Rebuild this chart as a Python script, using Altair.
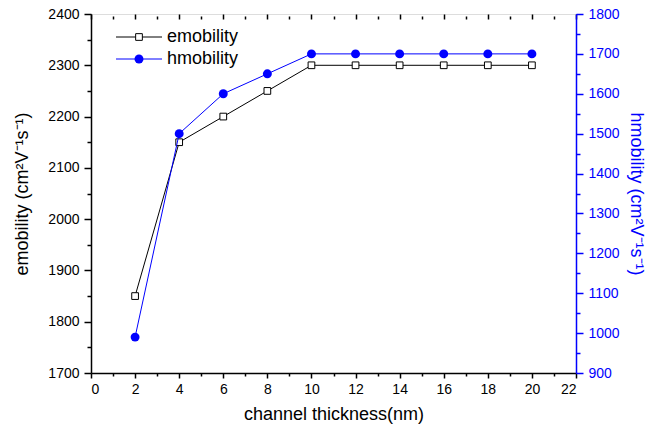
import altair as alt
import pandas as pd

thickness = [2, 4, 6, 8, 10, 12, 14, 16, 18, 20]
emobility = [1850, 2150, 2200, 2250, 2300, 2300, 2300, 2300, 2300, 2300]
hmobility = [990, 1500, 1600, 1650, 1700, 1700, 1700, 1700, 1700, 1700]

x_ticks = list(range(0, 23))
left_ticks = list(range(1700, 2401, 50))
right_ticks = list(range(900, 1801, 50))

df = pd.DataFrame({"x": thickness, "e": emobility, "h": hmobility})
FONT = "Liberation Sans"
BLUE = "#0000ff"

xscale = alt.Scale(domain=[0, 22], nice=False, zero=False)

x_bottom = alt.Axis(
    values=x_ticks, orient="bottom", title="channel thickness(nm)",
    labelExpr="datum.value % 2 === 0 ? datum.label : ''",
    tickSize={"condition": {"test": "datum.value % 2 === 0", "value": 5}, "value": 3},
    grid=False, domainColor="black", tickColor="black", labelColor="black",
    labelFontSize=14, titleFontSize=18, labelPadding=4, titlePadding=9,
    domainWidth=1.5, tickWidth=1.5, labelFont=FONT, titleFont=FONT,
    titleFontWeight="normal",
)

y_left = alt.Axis(
    values=left_ticks, orient="left", title="emobility (cm²V⁻¹s⁻¹)",
    labelExpr="datum.value % 100 === 0 ? datum.label : ''",
    tickSize={"condition": {"test": "datum.value % 100 === 0", "value": 7}, "value": 4},
    grid=False, domainColor="black", tickColor="black", labelColor="black",
    labelFontSize=14, titleFontSize=18, labelPadding=5, titlePadding=16,
    domainWidth=1.5, tickWidth=1.5, labelFont=FONT, titleFont=FONT,
    titleFontWeight="normal", format="d",
)

y_right = alt.Axis(
    values=right_ticks, orient="right", title="hmobility (cm²V⁻¹s⁻¹)",
    labelExpr="datum.value % 100 === 0 ? datum.label : ''",
    tickSize={"condition": {"test": "datum.value % 100 === 0", "value": 7}, "value": 4},
    grid=False, domainColor=BLUE, tickColor=BLUE, labelColor=BLUE, titleColor=BLUE,
    labelFontSize=14, titleFontSize=18, labelPadding=5, titlePadding=7,
    domainWidth=1.5, tickWidth=1.5, labelFont=FONT, titleFont=FONT,
    titleFontWeight="normal", format="d",
)

x_top = alt.Axis(
    values=x_ticks, orient="top", title=None, labels=False, domain=False,
    offset=-5,
    tickSize={"condition": {"test": "datum.value % 2 === 0", "value": 5}, "value": 3},
    grid=False, tickColor="black", tickWidth=1.5,
)

e_layer = alt.Chart(df).mark_line(
    color="black", strokeWidth=1,
    point=alt.OverlayMarkDef(shape="square", filled=False, fill="white",
                             color="black", size=45, strokeWidth=1, opacity=1),
).encode(
    x=alt.X("x:Q", scale=xscale, axis=x_bottom),
    y=alt.Y("e:Q", scale=alt.Scale(domain=[1700, 2400], nice=False, zero=False), axis=y_left),
)

h_layer = alt.Chart(df).mark_line(
    color=BLUE, strokeWidth=1,
    point=alt.OverlayMarkDef(shape="circle", filled=True, color=BLUE, size=80, opacity=1),
).encode(
    x=alt.X("x:Q", scale=xscale, axis=None),
    y=alt.Y("h:Q", scale=alt.Scale(domain=[900, 1800], nice=False, zero=False), axis=y_right),
)

top_layer = alt.Chart(df).mark_point(opacity=0).encode(
    x=alt.X("x:Q", scale=xscale, axis=x_top),
    y=alt.value(0),
)

leg_df = pd.DataFrame({"a": [0]})
legend_layers = []
for label, yy, kind in [("emobility", 23, "e"), ("hmobility", 45, "h")]:
    col = "black" if kind == "e" else BLUE
    legend_layers.append(
        alt.Chart(leg_df).mark_rule(color=col, strokeWidth=1).encode(
            x=alt.value(25), x2=alt.value(71), y=alt.value(yy))
    )
    if kind == "e":
        pt = alt.Chart(leg_df).mark_point(shape="square", filled=False, fill="white",
                                           color="black", size=45, strokeWidth=1, opacity=1)
    else:
        pt = alt.Chart(leg_df).mark_point(shape="circle", filled=True, color=BLUE,
                                           size=80, opacity=1)
    legend_layers.append(pt.encode(x=alt.value(48), y=alt.value(yy)))
    legend_layers.append(
        alt.Chart(leg_df).mark_text(text=label, align="left", baseline="middle",
                                    font=FONT, fontSize=18, color="black").encode(
            x=alt.value(76), y=alt.value(yy))
    )

chart = alt.layer(e_layer, h_layer, top_layer, *legend_layers).resolve_scale(
    y="independent"
).resolve_axis(
    x="independent", y="independent"
).properties(
    width=485, height=359,
    autosize=alt.AutoSizeParams(type="none"),
    padding={"left": 91, "top": 14, "right": 75, "bottom": 57},
).configure_view(
    stroke="black", strokeWidth=1.5
).configure(background="white")

chart.save("out.html", embed_options={"renderer": "svg", "actions": False})
